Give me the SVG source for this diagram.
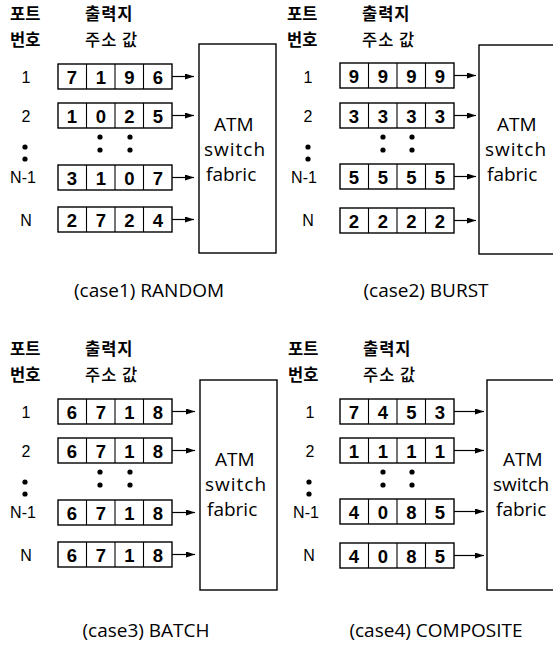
<svg xmlns="http://www.w3.org/2000/svg" width="553" height="645" viewBox="0 0 553 645">
<defs>
<style>
.bg{fill:#fff}
.q{fill:#fff;stroke:#000;stroke-width:1.4}
.dv{stroke:#000;stroke-width:1.1}
.d{font-family:"Liberation Sans Narrow","Liberation Sans",Arial,sans-serif;font-size:18.5px;font-weight:700;text-anchor:middle;fill:#000}
.lb{font-family:"Liberation Sans",Arial,sans-serif;font-size:16px;text-anchor:middle;fill:#000}
.kr{font-family:"Noto Sans CJK KR",sans-serif;font-size:16.5px;font-weight:700;fill:#000}
.kr2{font-family:"Noto Sans CJK KR",sans-serif;font-size:16.5px;font-weight:500;fill:#000}
.sw{fill:#fff;stroke:#000;stroke-width:1.4}
.st{font-family:"Open Sans","DejaVu Sans",sans-serif;font-size:19px;fill:#000}
.cap{font-family:"Open Sans","DejaVu Sans",sans-serif;font-size:19px;text-anchor:middle;fill:#000}
.ar{stroke:#000;stroke-width:1.2;fill:none;marker-end:url(#ah)}
.dot{fill:#000}
</style>
<marker id="ah" markerUnits="userSpaceOnUse" markerWidth="9" markerHeight="6" refX="9" refY="3" orient="auto">
<path d="M0,0 L9,3 L0,6 z" fill="#000"/>
</marker>
<g id="rowtpl">
<rect class="q" x="58" y="0" width="114" height="25"/>
<line class="dv" x1="86.5" y1="0" x2="86.5" y2="25"/>
<line class="dv" x1="115" y1="0" x2="115" y2="25"/>
<line class="dv" x1="143.5" y1="0" x2="143.5" y2="25"/>
</g>
</defs>
<rect class="bg" x="0" y="0" width="553" height="645"/>

<!-- Panel 1 -->
<g id="panel1">
<g id="p1-header">
<text class="kr" x="10" y="20">포트</text>
<text class="kr" x="10" y="46">번호</text>
<text class="kr" x="85" y="20" letter-spacing="1">출력지</text>
<text class="kr2" x="85" y="46" letter-spacing="1">주소 값</text>
</g>
<g id="p1-ports">
<text class="lb" x="26" y="83">1</text>
<text class="lb" x="26" y="122">2</text>
<circle class="dot" cx="25" cy="147" r="2.6"/><circle class="dot" cx="25" cy="159" r="2.6"/>
<text class="lb" x="23" y="183">N-1</text>
<text class="lb" x="26" y="226">N</text>
</g>
<g id="p1-q1" transform="translate(0,64)"><use href="#rowtpl"/><text class="d" x="72" y="19.5">7</text><text class="d" x="101" y="19.5">1</text><text class="d" x="129.5" y="19.5">9</text><text class="d" x="158" y="19.5">6</text></g>
<g id="p1-q2" transform="translate(0,103)"><use href="#rowtpl"/><text class="d" x="72" y="19.5">1</text><text class="d" x="101" y="19.5">0</text><text class="d" x="129.5" y="19.5">2</text><text class="d" x="158" y="19.5">5</text></g>
<g id="p1-dots"><circle class="dot" cx="100" cy="137" r="2.6"/><circle class="dot" cx="130" cy="137" r="2.6"/><circle class="dot" cx="100" cy="150" r="2.6"/><circle class="dot" cx="130" cy="150" r="2.6"/></g>
<g id="p1-q3" transform="translate(0,165)"><use href="#rowtpl"/><text class="d" x="72" y="19.5">3</text><text class="d" x="101" y="19.5">1</text><text class="d" x="129.5" y="19.5">0</text><text class="d" x="158" y="19.5">7</text></g>
<g id="p1-q4" transform="translate(0,207)"><use href="#rowtpl"/><text class="d" x="72" y="19.5">2</text><text class="d" x="101" y="19.5">7</text><text class="d" x="129.5" y="19.5">2</text><text class="d" x="158" y="19.5">4</text></g>
<g id="p1-switch"><rect class="sw" x="199" y="44" width="77" height="209"/>
<text class="st" x="214" y="131">ATM</text><text class="st" x="204" y="156" letter-spacing="1">switch</text><text class="st" x="206" y="181">fabric</text></g>
<g id="p1-connectors"><line class="ar" x1="172" y1="76.5" x2="194" y2="76.5"/><line class="ar" x1="172" y1="115.5" x2="194" y2="115.5"/><line class="ar" x1="172" y1="177.5" x2="194" y2="177.5"/><line class="ar" x1="172" y1="219.5" x2="194" y2="219.5"/></g>
<text class="cap" x="149" y="297">(case1) RANDOM</text>
</g>

<!-- Panel 2 -->
<g id="panel2">
<g id="p2-switch"><rect class="sw" x="479" y="45" width="90" height="209"/>
<text class="st" x="497" y="131">ATM</text><text class="st" x="485" y="156" letter-spacing="1">switch</text><text class="st" x="487" y="181">fabric</text></g>
<g transform="translate(282,0)">
<g id="p2-header">
<text class="kr" x="5" y="20">포트</text>
<text class="kr" x="5" y="46">번호</text>
<text class="kr" x="80" y="20" letter-spacing="1">출력지</text>
<text class="kr2" x="80" y="46" letter-spacing="1">주소 값</text>
</g>
<g id="p2-ports">
<text class="lb" x="26" y="83">1</text>
<text class="lb" x="26" y="122">2</text>
<circle class="dot" cx="26" cy="147" r="2.6"/><circle class="dot" cx="26" cy="159" r="2.6"/>
<text class="lb" x="22" y="183">N-1</text>
<text class="lb" x="26" y="226">N</text>
</g>
<g id="p2-q1" transform="translate(0,63)"><use href="#rowtpl"/><text class="d" x="72" y="19.5">9</text><text class="d" x="101" y="19.5">9</text><text class="d" x="129.5" y="19.5">9</text><text class="d" x="158" y="19.5">9</text></g>
<g id="p2-q2" transform="translate(0,103)"><use href="#rowtpl"/><text class="d" x="72" y="19.5">3</text><text class="d" x="101" y="19.5">3</text><text class="d" x="129.5" y="19.5">3</text><text class="d" x="158" y="19.5">3</text></g>
<g id="p2-dots"><circle class="dot" cx="101" cy="137" r="2.6"/><circle class="dot" cx="130" cy="137" r="2.6"/><circle class="dot" cx="101" cy="150" r="2.6"/><circle class="dot" cx="130" cy="150" r="2.6"/></g>
<g id="p2-q3" transform="translate(0,164)"><use href="#rowtpl"/><text class="d" x="72" y="19.5">5</text><text class="d" x="101" y="19.5">5</text><text class="d" x="129.5" y="19.5">5</text><text class="d" x="158" y="19.5">5</text></g>
<g id="p2-q4" transform="translate(0,208)"><use href="#rowtpl"/><text class="d" x="72" y="19.5">2</text><text class="d" x="101" y="19.5">2</text><text class="d" x="129.5" y="19.5">2</text><text class="d" x="158" y="19.5">2</text></g>
<g id="p2-connectors"><line class="ar" x1="172" y1="75.5" x2="194" y2="75.5"/><line class="ar" x1="172" y1="115.5" x2="194" y2="115.5"/><line class="ar" x1="172" y1="176.5" x2="194" y2="176.5"/><line class="ar" x1="172" y1="220.5" x2="194" y2="220.5"/></g>
</g>
<text class="cap" x="426" y="297">(case2) BURST</text>
</g>

<!-- Panel 3 -->
<g id="panel3" transform="translate(0,335)">
<g id="p3-header">
<text class="kr" x="10" y="20">포트</text>
<text class="kr" x="10" y="46">번호</text>
<text class="kr" x="85" y="20" letter-spacing="1">출력지</text>
<text class="kr2" x="85" y="46" letter-spacing="1">주소 값</text>
</g>
<g id="p3-ports">
<text class="lb" x="26" y="83">1</text>
<text class="lb" x="26" y="122">2</text>
<circle class="dot" cx="25" cy="147" r="2.6"/><circle class="dot" cx="25" cy="159" r="2.6"/>
<text class="lb" x="23" y="183">N-1</text>
<text class="lb" x="26" y="226">N</text>
</g>
<g id="p3-q1" transform="translate(0,64)"><use href="#rowtpl"/><text class="d" x="72" y="19.5">6</text><text class="d" x="101" y="19.5">7</text><text class="d" x="129.5" y="19.5">1</text><text class="d" x="158" y="19.5">8</text></g>
<g id="p3-q2" transform="translate(0,103)"><use href="#rowtpl"/><text class="d" x="72" y="19.5">6</text><text class="d" x="101" y="19.5">7</text><text class="d" x="129.5" y="19.5">1</text><text class="d" x="158" y="19.5">8</text></g>
<g id="p3-dots"><circle class="dot" cx="100" cy="137" r="2.6"/><circle class="dot" cx="130" cy="137" r="2.6"/><circle class="dot" cx="100" cy="150" r="2.6"/><circle class="dot" cx="130" cy="150" r="2.6"/></g>
<g id="p3-q3" transform="translate(0,165)"><use href="#rowtpl"/><text class="d" x="72" y="19.5">6</text><text class="d" x="101" y="19.5">7</text><text class="d" x="129.5" y="19.5">1</text><text class="d" x="158" y="19.5">8</text></g>
<g id="p3-q4" transform="translate(0,207)"><use href="#rowtpl"/><text class="d" x="72" y="19.5">6</text><text class="d" x="101" y="19.5">7</text><text class="d" x="129.5" y="19.5">1</text><text class="d" x="158" y="19.5">8</text></g>
<g id="p3-switch"><rect class="sw" x="200" y="45" width="77" height="210"/>
<text class="st" x="215" y="131">ATM</text><text class="st" x="205" y="156" letter-spacing="1">switch</text><text class="st" x="207" y="181">fabric</text></g>
<g id="p3-connectors"><line class="ar" x1="172" y1="76.5" x2="195" y2="76.5"/><line class="ar" x1="172" y1="115.5" x2="195" y2="115.5"/><line class="ar" x1="172" y1="177.5" x2="195" y2="177.5"/><line class="ar" x1="172" y1="219.5" x2="195" y2="219.5"/></g>
<text class="cap" x="146" y="302">(case3) BATCH</text>
</g>

<!-- Panel 4 -->
<g id="panel4">
<g id="p4-switch"><rect class="sw" x="487" y="380" width="90" height="210"/>
<text class="st" x="503" y="466">ATM</text><text class="st" x="493" y="491">switch</text><text class="st" x="496" y="516">fabric</text></g>
<g transform="translate(282,335)">
<g id="p4-header">
<text class="kr" x="6" y="20">포트</text>
<text class="kr" x="6" y="46">번호</text>
<text class="kr" x="81" y="20" letter-spacing="1">출력지</text>
<text class="kr2" x="81" y="46" letter-spacing="1">주소 값</text>
</g>
<g id="p4-ports">
<text class="lb" x="28" y="83">1</text>
<text class="lb" x="28" y="122">2</text>
<circle class="dot" cx="27" cy="147" r="2.6"/><circle class="dot" cx="27" cy="159" r="2.6"/>
<text class="lb" x="24" y="183">N-1</text>
<text class="lb" x="27" y="226">N</text>
</g>
<g id="p4-q1" transform="translate(0,64)"><use href="#rowtpl"/><text class="d" x="72" y="19.5">7</text><text class="d" x="101" y="19.5">4</text><text class="d" x="129.5" y="19.5">5</text><text class="d" x="158" y="19.5">3</text></g>
<g id="p4-q2" transform="translate(0,103)"><use href="#rowtpl"/><text class="d" x="72" y="19.5">1</text><text class="d" x="101" y="19.5">1</text><text class="d" x="129.5" y="19.5">1</text><text class="d" x="158" y="19.5">1</text></g>
<g id="p4-dots"><circle class="dot" cx="101" cy="137" r="2.6"/><circle class="dot" cx="130" cy="137" r="2.6"/><circle class="dot" cx="101" cy="150" r="2.6"/><circle class="dot" cx="130" cy="150" r="2.6"/></g>
<g id="p4-q3" transform="translate(0,164)"><use href="#rowtpl"/><text class="d" x="72" y="19.5">4</text><text class="d" x="101" y="19.5">0</text><text class="d" x="129.5" y="19.5">8</text><text class="d" x="158" y="19.5">5</text></g>
<g id="p4-q4" transform="translate(0,208)"><use href="#rowtpl"/><text class="d" x="72" y="19.5">4</text><text class="d" x="101" y="19.5">0</text><text class="d" x="129.5" y="19.5">8</text><text class="d" x="158" y="19.5">5</text></g>
<g id="p4-connectors"><line class="ar" x1="172" y1="76.5" x2="202" y2="76.5"/><line class="ar" x1="172" y1="115.5" x2="202" y2="115.5"/><line class="ar" x1="172" y1="176.5" x2="202" y2="176.5"/><line class="ar" x1="172" y1="220.5" x2="202" y2="220.5"/></g>
</g>
<text class="cap" x="436" y="637">(case4) COMPOSITE</text>
</g>
</svg>
